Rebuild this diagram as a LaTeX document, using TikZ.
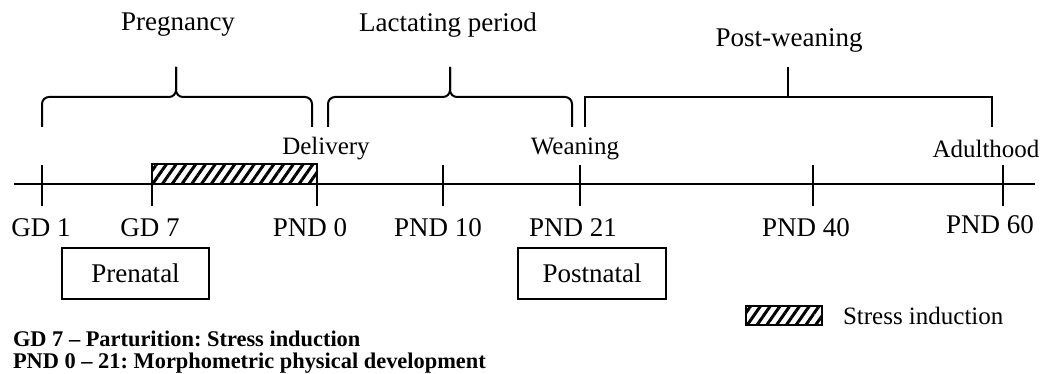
\documentclass[tikz,border=0pt]{standalone}
\usepackage{fontspec}
\setmainfont{Liberation Serif}
\usetikzlibrary{patterns.meta}
\frenchspacing

\begin{document}
\begin{tikzpicture}[x=1pt, y=-1pt, line width=2pt,
        lbl/.style={inner sep=0pt, font=\fontsize{27}{32}\selectfont},
        event/.style={inner sep=0pt, font=\fontsize{25}{30}\selectfont},
        note/.style={inner sep=0pt, anchor=base west, align=left, font=\fontsize{22.4}{22}\selectfont\bfseries},
        periodbox/.style={draw, line width=1.2pt, inner sep=0pt, minimum height=51pt, font=\fontsize{27}{32}\selectfont},
        hatch/.style={draw, line width=1.5pt, pattern={Lines[angle=55, distance=8pt, line width=3pt]}}]
        \useasboundingbox (0,0) rectangle (1040,374);

        % time axis
        \coordinate (start) at (14,184);
        \coordinate (end) at (1035,184);
        \coordinate (gd1) at (42,184);
        \coordinate (gd7) at (152,184);
        \coordinate (pnd0) at (317,184);
        \coordinate (pnd10) at (443,184);
        \coordinate (pnd21) at (580,184);
        \coordinate (pnd40) at (813,184);
        \coordinate (pnd60) at (1003,184);
        \draw[hatch] (gd7) rectangle ([yshift=20pt]pnd0);
        \draw (start) -- (end);
        \foreach \t in {gd1,gd7,pnd0,pnd10,pnd21,pnd40,pnd60}
            \draw ([yshift=19pt]\t) -- ([yshift=-22pt]\t);

        \node[lbl] (lgd1) at (41,228) {GD 1};
        \node[lbl] (lgd7) at (150,228) {GD 7};
        \node[lbl] (lpnd0) at (310,228) {PND 0};
        \node[lbl] (lpnd10) at (438,228) {PND 10};
        \node[lbl] (lpnd21) at (573,228) {PND 21};
        \node[lbl] (lpnd40) at (806,228) {PND 40};
        \node[lbl] (lpnd60) at (990,225) {PND 60};

        \node[event] (delivery) at (326,149) {Delivery};
        \node[event] (weaning) at (575,149) {Weaning};
        \node[event] (adult) at (986,149) {Adulthood};

        % periods
        \draw[rounded corners=7pt] (42,127) -- (42,97) -- (176,97) -- (176,67);
        \draw[rounded corners=7pt] (312,127) -- (312,97) -- (176,97) -- (176,67);
        \draw[rounded corners=7pt] (328,127) -- (328,97) -- (450,97) -- (450,67);
        \draw[rounded corners=7pt] (572,127) -- (572,97) -- (450,97) -- (450,67);
        \draw (585,127) -- (585,97) -- (992,97) -- (992,127);
        \draw (788,97) -- (788,67);
        \node[lbl] (pregnancy) at (178,25) {Pregnancy};
        \node[lbl] (lactating) at (448,25) {Lactating period};
        \node[lbl] (postweaning) at (789,40) {Post-weaning};

        \node[periodbox, minimum width=147pt] (prenatal) at (135.5,273.5) {Prenatal};
        \node[periodbox, minimum width=148pt] (postnatal) at (592,273.5) {Postnatal};

        % legend
        \draw[hatch] (746,306) rectangle (822,325);
        \node[event, anchor=west] (stress) at (842,316) {Stress induction};
        \node[note] (notes) at (12,368) {GD 7 -- Parturition: Stress induction\\PND 0 -- 21: Morphometric physical development};
\end{tikzpicture}
\end{document}
